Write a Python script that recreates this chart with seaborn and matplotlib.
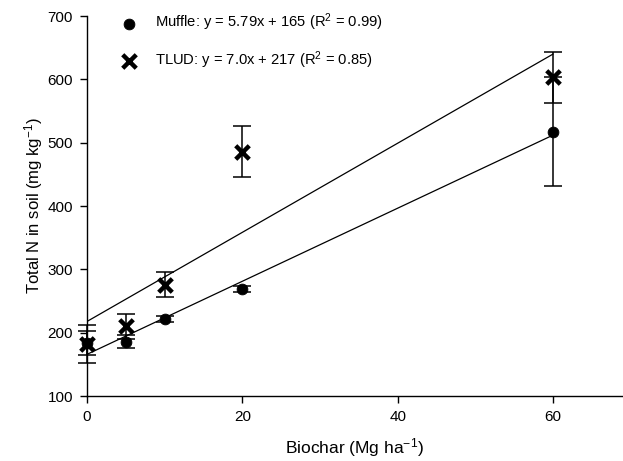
import numpy as np
import pandas as pd
import seaborn as sns
import matplotlib.pyplot as plt

# biochar rate (Mg/ha)
biochar = [0, 5, 10, 20, 60]

# total N in soil (mg/kg)
muffle = [183, 186, 222, 269, 517]
muffle_err = [19, 10, 5, 5, 86]
tlud = [182, 210, 276, 486, 603]
tlud_err = [30, 20, 19, 41, 40]

muffle_label = 'Muffle: y = 5.79x + 165 (R$^2$ = 0.99)'
tlud_label = 'TLUD: y = 7.0x + 217 (R$^2$ = 0.85)'

sns.set_style('ticks')
plt.rcParams['font.family'] = ['Liberation Sans', 'DejaVu Sans']
plt.rcParams['mathtext.fontset'] = 'custom'
plt.rcParams['mathtext.rm'] = 'Liberation Sans'
plt.rcParams['mathtext.default'] = 'regular'
plt.rcParams['text.color'] = 'black'
plt.rcParams['axes.labelcolor'] = 'black'
plt.rcParams['xtick.color'] = 'black'
plt.rcParams['ytick.color'] = 'black'

df = pd.DataFrame({'biochar': biochar, 'muffle': muffle, 'tlud': tlud})

fig = plt.figure(figsize=(6.23, 4.61), dpi=100)
ax = fig.add_axes([87 / 623, 1 - 396 / 461, 1 - 87 / 623, (396 - 16) / 461])

# fitted lines
sns.regplot(df, x='biochar', y='muffle', ci=None, scatter=False, truncate=True,
            color='black', line_kws={'lw': 0.9}, ax=ax)
sns.regplot(df, x='biochar', y='tlud', ci=None, scatter=False, truncate=True,
            color='black', line_kws={'lw': 0.9}, ax=ax)

# error bars
for vals, errs in [(muffle, muffle_err), (tlud, tlud_err)]:
    _, caps, bars = ax.errorbar(biochar, vals, yerr=errs, fmt='none', ecolor='black',
                                elinewidth=1.1, capsize=6.5, capthick=1.1)
    for c in caps:
        c.set_clip_on(False)
    for b in bars:
        b.set_clip_on(False)

sns.scatterplot(df, x='biochar', y='muffle', marker='o', s=60, color='black',
                edgecolor='black', label=muffle_label, ax=ax, zorder=5, clip_on=False)
sns.scatterplot(df, x='biochar', y='tlud', marker='x', s=95, color='black',
                linewidth=3.2, label=tlud_label, ax=ax, zorder=6, clip_on=False)

ax.set_xlim(0, 69)
ax.set_ylim(100, 700)
ax.set_xticks([0, 20, 40, 60])
ax.set_yticks(range(100, 701, 100))
ax.tick_params(direction='out', length=5, width=1, labelsize=11, pad=5)
sns.despine(ax=ax)
for s in ['left', 'bottom']:
    ax.spines[s].set_linewidth(1)
    ax.spines[s].set_color('black')

ax.set_xlabel('Biochar (Mg ha$^{-1}$)', fontsize=12.5, labelpad=9)
ax.set_ylabel('Total N in soil (mg kg$^{-1}$)', fontsize=12, labelpad=2)

ax.legend(loc='upper left', bbox_to_anchor=(108 / 623, 1 - 6 / 461),
          bbox_transform=fig.transFigure, frameon=False, fontsize=10.6,
          labelspacing=1.1, borderaxespad=0, handletextpad=0.8)

fig.savefig('out.png', dpi=100)
